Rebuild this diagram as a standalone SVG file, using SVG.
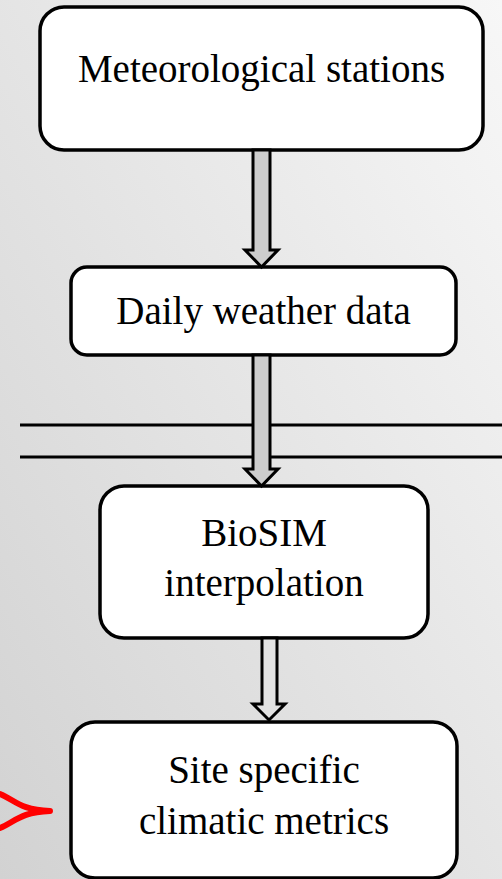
<svg xmlns="http://www.w3.org/2000/svg" width="502" height="879" viewBox="0 0 502 879">
<defs>
<linearGradient id="bg" x1="1" y1="0" x2="0" y2="1">
<stop offset="0" stop-color="#f7f7f7"/>
<stop offset="1" stop-color="#d2d2d2"/>
</linearGradient>
<style>
.box{fill:#fff;stroke:#000;stroke-width:3.5}
.t{font-family:"Liberation Serif","Times New Roman",serif;font-size:39px;fill:#000;text-anchor:middle}
.arr{fill:#cdcdcd;stroke:#000;stroke-width:3;stroke-linejoin:miter}
.ln{stroke:#000;stroke-width:3}
</style>
</defs>
<rect width="502" height="879" fill="url(#bg)"/>
<g id="lines">
<line class="ln" x1="20" y1="425" x2="502" y2="425"/>
<line class="ln" x1="20" y1="457" x2="502" y2="457"/>
</g>
<g id="n1">
<rect class="box" x="40" y="7" width="443" height="143" rx="24"/>
<text class="t" x="261.5" y="82">Meteorological stations</text>
</g>
<g id="n2">
<rect class="box" x="71" y="267" width="385" height="88" rx="16"/>
<text class="t" x="263.5" y="324">Daily weather data</text>
</g>
<g id="n3">
<rect class="box" x="100" y="486" width="328" height="152" rx="24"/>
<text class="t" x="264" y="546">BioSIM</text>
<text class="t" x="264" y="596">interpolation</text>
</g>
<g id="n4">
<rect class="box" x="71" y="722" width="386" height="156" rx="24"/>
<text class="t" x="264" y="783">Site specific</text>
<text class="t" x="264" y="834">climatic metrics</text>
</g>
<g id="connectors">
<polygon class="arr" points="253,150 270,150 270,250 278,250 261.5,267 245,250 253,250"/>
<polygon class="arr" points="253,355 270,355 270,469 278,469 261.5,486 245,469 253,469"/>
<polygon class="arr" style="fill:#e2e2e2" points="262,638 277,638 277,704 285,704 269,720 253,704 262,704"/>
</g>
<g id="bracket">
<path d="M0,794 C15,800 20,810 50,811 C20,812 15,822 0,828" fill="none" stroke="#ff0000" stroke-width="6" stroke-linecap="round" stroke-linejoin="round"/>
</g>
</svg>
